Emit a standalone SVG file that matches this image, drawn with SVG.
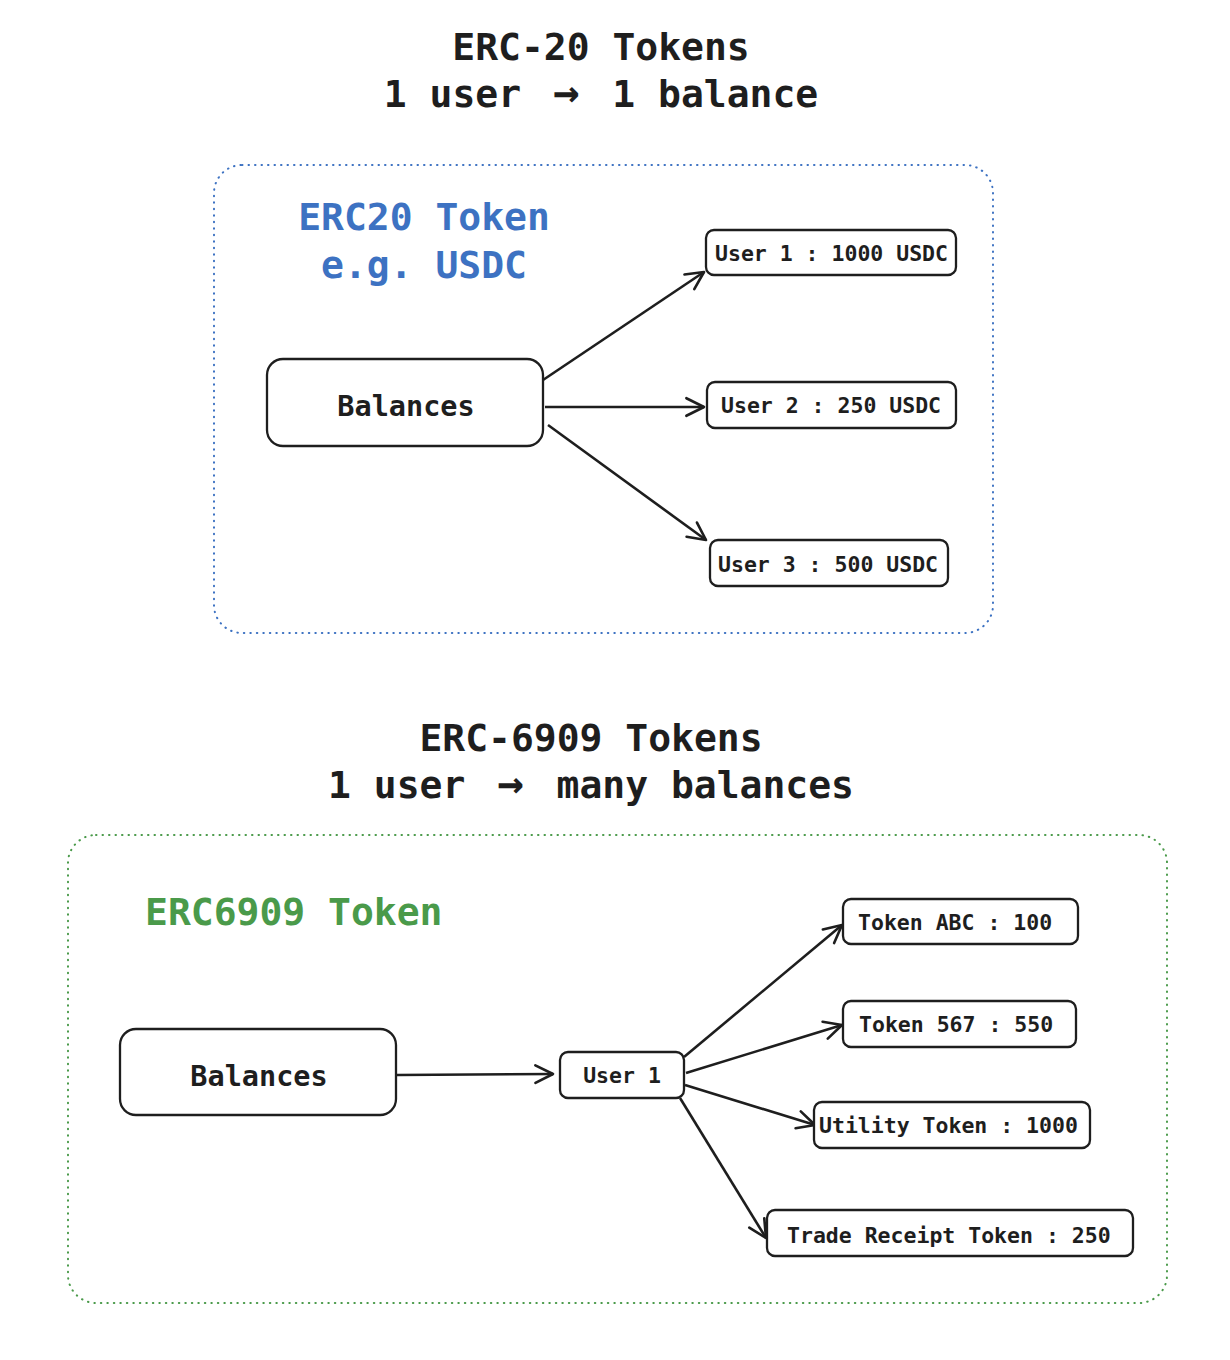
<svg xmlns="http://www.w3.org/2000/svg" width="1230" height="1360" viewBox="0 0 1230 1360">
<defs>
<style>
text{font-family:"DejaVu Sans Mono","Liberation Mono",monospace;fill:#1e1e1e;font-weight:bold}
.h{font-size:38px;text-anchor:middle}
.ar{font-size:44px}
.box{fill:#fff;stroke:#1e1e1e;stroke-width:2.3}
.small{font-size:21.5px}
.big{font-size:28.5px;text-anchor:middle}
.edge{stroke:#1e1e1e;stroke-width:2.6;fill:none;marker-end:url(#ah)}
</style>
<marker id="ah" viewBox="0 0 20 20" refX="18" refY="10" markerWidth="22" markerHeight="22" markerUnits="userSpaceOnUse" orient="auto">
<path d="M2,2 L18,10 L2,18" fill="none" stroke="#1e1e1e" stroke-width="2.4" stroke-linecap="round" stroke-linejoin="round"/>
</marker>
</defs>
<rect width="1230" height="1360" fill="#fff"/>
<g id="title1">
<text class="h" x="601" y="60">ERC-20 Tokens</text>
<text class="h" x="601" y="107">1 user <tspan class="ar" dx="9">→</tspan><tspan dx="10"> 1 balance</tspan></text>
</g>
<g id="title2">
<text class="h" x="591" y="751">ERC-6909 Tokens</text>
<text class="h" x="591" y="798">1 user <tspan class="ar" dx="9">→</tspan><tspan dx="10"> many balances</tspan></text>
</g>
<g id="erc20-container">
<rect x="214" y="165" width="779" height="468" rx="28" fill="none" stroke="#3d72c2" stroke-width="2" stroke-dasharray="0.5 6" stroke-linecap="round"/>
<text x="424" y="230" style="font-size:38px;text-anchor:middle;fill:#3d72c2">ERC20 Token</text>
<text x="424" y="278" style="font-size:38px;text-anchor:middle;fill:#3d72c2">e.g. USDC</text>
</g>
<g id="erc6909-container">
<rect x="68" y="835" width="1099" height="468" rx="28" fill="none" stroke="#4a9a4a" stroke-width="2" stroke-dasharray="0.5 6" stroke-linecap="round"/>
<text x="145" y="925" style="font-size:38px;fill:#4a9a4a">ERC6909 Token</text>
</g>
<g id="connectors">
<path class="edge" d="M543,380 L704,272"/>
<path class="edge" d="M545,407 L704,407"/>
<path class="edge" d="M548,425 L706,540"/>
<path class="edge" d="M397,1075 L553,1074"/>
<path class="edge" d="M684,1057 L842,925"/>
<path class="edge" d="M686,1073 L842,1025"/>
<path class="edge" d="M685,1085 L815,1125"/>
<path class="edge" d="M680,1098 L766,1238"/>
</g>
<g id="balances1">
<rect class="box" x="267" y="359" width="276" height="87" rx="16"/>
<text class="big" x="406" y="416">Balances</text>
</g>
<g id="user1-usdc">
<rect class="box" x="706" y="230" width="250" height="45" rx="8"/>
<text class="small" x="715" y="261">User 1 : 1000 USDC</text>
</g>
<g id="user2-usdc">
<rect class="box" x="707" y="382" width="249" height="46" rx="8"/>
<text class="small" x="721" y="413">User 2 : 250 USDC</text>
</g>
<g id="user3-usdc">
<rect class="box" x="710" y="540" width="238" height="46" rx="8"/>
<text class="small" x="718" y="572">User 3 : 500 USDC</text>
</g>
<g id="balances2">
<rect class="box" x="120" y="1029" width="276" height="86" rx="16"/>
<text class="big" x="259" y="1086">Balances</text>
</g>
<g id="user1">
<rect class="box" x="560" y="1052" width="124" height="46" rx="8"/>
<text class="small" x="622" y="1083" text-anchor="middle">User 1</text>
</g>
<g id="token-abc">
<rect class="box" x="843" y="899" width="235" height="45" rx="8"/>
<text class="small" x="858" y="930">Token ABC : 100</text>
</g>
<g id="token-567">
<rect class="box" x="843" y="1001" width="233" height="46" rx="8"/>
<text class="small" x="859" y="1032">Token 567 : 550</text>
</g>
<g id="utility-token">
<rect class="box" x="814" y="1102" width="276" height="46" rx="8"/>
<text class="small" x="819" y="1133">Utility Token : 1000</text>
</g>
<g id="trade-receipt-token">
<rect class="box" x="767" y="1210" width="366" height="46" rx="8"/>
<text class="small" x="787" y="1243">Trade Receipt Token : 250</text>
</g>
</svg>
